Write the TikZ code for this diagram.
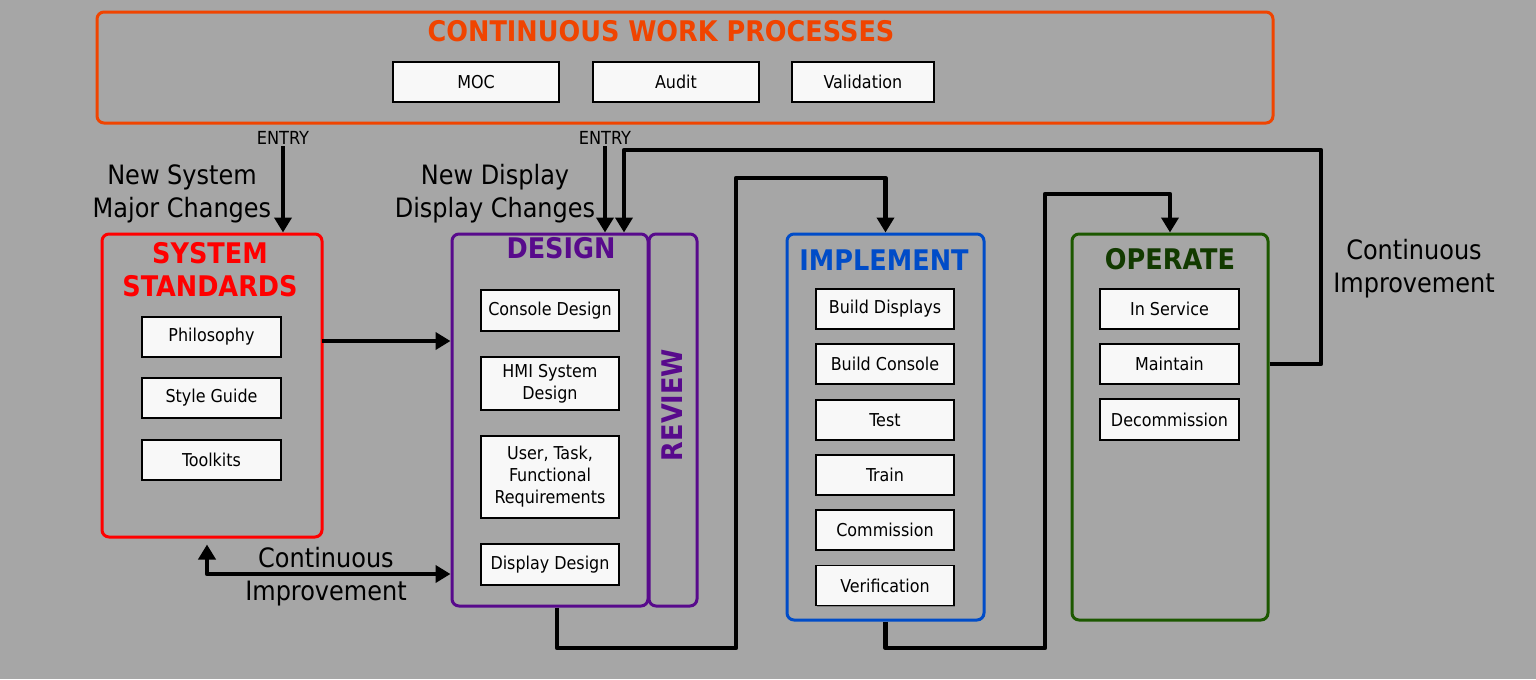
\documentclass[tikz,border=0pt]{standalone}
\usepackage{fontspec}
\setmainfont{DejaVu Sans Condensed}
\usetikzlibrary{arrows.meta,shadows}
\newlength\pxu \setlength\pxu{0.75pt}
\definecolor{bg}{RGB}{166,166,166}
\definecolor{cwp}{RGB}{240,68,0}
\definecolor{sysred}{RGB}{255,0,0}
\definecolor{despur}{RGB}{88,10,140}
\definecolor{impblue}{RGB}{0,76,200}
\definecolor{opgreen}{RGB}{28,88,0}
\definecolor{optext}{RGB}{18,58,0}
\definecolor{boxfill}{RGB}{248,248,248}
\tikzset{
  container/.style={draw, line width=2.25pt, rounded corners=5.25pt, inner sep=0pt},
  item/.style={draw=black, line width=1.2pt, fill=boxfill, inner sep=0pt, align=center,
     font=\fontsize{13.3pt}{16.5pt}\selectfont,
     drop shadow={shadow xshift=0.75pt, shadow yshift=-1.1pt, opacity=0.45, fill=black!70}},
  title/.style={font=\fontsize{21.3pt}{24.8pt}\selectfont\bfseries, align=center, inner sep=0pt},
  label/.style={font=\fontsize{20pt}{24.8pt}\selectfont, align=center, inner sep=0pt},
  entry/.style={font=\fontsize{13.5pt}{15pt}\selectfont, inner sep=1pt},
  conn/.style={draw=black, line width=3.6pt, line join=round},
  arr/.style={-{Triangle[length=11.25pt, width=12.75pt]}},
  barr/.style={{Triangle[length=11.25pt, width=12.75pt]}-{Triangle[length=11.25pt, width=12.75pt]}}
}
\begin{document}
\begin{tikzpicture}[x=\pxu, y=-\pxu]
\fill[bg] (0,0) rectangle (1536,679);
\useasboundingbox (0,0) rectangle (1536,679);

% top container
\node[container, draw=cwp, minimum width=1176\pxu, minimum height=111\pxu] (cwpbox) at (685,67.5) {};
\node[title, text=cwp] (cwptitle) at (661,31) {CONTINUOUS WORK PROCESSES};
\node[item, minimum width=166\pxu, minimum height=40\pxu] (moc) at (476,82) {MOC};
\node[item, minimum width=166\pxu, minimum height=40\pxu] (audit) at (676,82) {Audit};
\node[item, minimum width=142\pxu, minimum height=40\pxu] (valid) at (863,82) {Validation};

% system standards
\node[container, draw=sysred, minimum width=220\pxu, minimum height=303\pxu] (sys) at (212,385.5) {};
\node[title, text=sysred] (systitle) at (210,270) {SYSTEM\\STANDARDS};
\node[item, minimum width=139\pxu, minimum height=40\pxu] (phil) at (211.5,337) {Philosophy};
\node[item, minimum width=139\pxu, minimum height=40\pxu] (style) at (211.5,398) {Style Guide};
\node[item, minimum width=139\pxu, minimum height=40\pxu] (tool) at (211.5,460) {Toolkits};

% design + review
\node[container, draw=despur, minimum width=196\pxu, minimum height=372\pxu] (des) at (550,420) {};
\node[container, draw=despur, minimum width=48\pxu, minimum height=372\pxu] (rev) at (673,420) {};
\node[title, text=despur] (destitle) at (561,248) {DESIGN};
\node[title, text=despur, rotate=90] (revtitle) at (672,405) {REVIEW};
\node[item, minimum width=138\pxu, minimum height=41\pxu] (cons) at (550,310.5) {Console Design};
\node[item, minimum width=138\pxu, minimum height=53\pxu] (hmi) at (550,383.5) {HMI System\\Design};
\node[item, minimum width=138\pxu, minimum height=82\pxu] (utf) at (550,477) {User, Task,\\Functional\\Requirements};
\node[item, minimum width=138\pxu, minimum height=41\pxu] (disp) at (550,564.5) {Display Design};

% implement
\node[container, draw=impblue, minimum width=197\pxu, minimum height=386\pxu] (impl) at (885.5,427) {};
\node[title, text=impblue] (impltitle) at (884,260) {IMPLEMENT};
\node[item, minimum width=138\pxu, minimum height=40\pxu] (bdisp) at (885,309) {Build Displays};
\node[item, minimum width=138\pxu, minimum height=40\pxu] (bcons) at (885,364) {Build Console};
\node[item, minimum width=138\pxu, minimum height=40\pxu] (test) at (885,420) {Test};
\node[item, minimum width=138\pxu, minimum height=40\pxu] (train) at (885,475) {Train};
\node[item, minimum width=138\pxu, minimum height=40\pxu] (comm) at (885,530) {Commission};
\node[item, minimum width=138\pxu, minimum height=40\pxu] (verif) at (885,585.5) {Verification};

% operate
\node[container, draw=opgreen, minimum width=196\pxu, minimum height=386\pxu] (oper) at (1170,427) {};
\node[title, text=optext] (opertitle) at (1170,259) {OPERATE};
\node[item, minimum width=139\pxu, minimum height=40\pxu] (inserv) at (1169.5,309) {In Service};
\node[item, minimum width=139\pxu, minimum height=40\pxu] (maint) at (1169.5,364) {Maintain};
\node[item, minimum width=139\pxu, minimum height=41\pxu] (decom) at (1169.5,419.5) {Decommission};

% labels
\node[entry] (entry1) at (283,138) {ENTRY};
\node[entry] (entry2) at (605,138) {ENTRY};
\node[label] (newsys) at (182,194) {New System\\Major Changes};
\node[label] (newdisp) at (495,194) {New Display\\Display Changes};
\node[label] (ciBottom) at (326,577) {Continuous\\Improvement};
\node[label] (ciRight) at (1414,269) {Continuous\\Improvement};

% coordinates
\coordinate (e2x) at (624,0);
\coordinate (loopTop) at (1321,150);
\coordinate (a1) at (322,341);
\coordinate (ciL) at (207,574);
\coordinate (d0) at (557,648);
\coordinate (d1) at (736,648);
\coordinate (d2) at (736,178);
\coordinate (i1) at (1045,648);
\coordinate (i2) at (1045,194);

% connectors
\draw[conn, arr] (entry1.south) -- (entry1.south |- sys.north);
\draw[conn, arr] (entry2.south) -- (entry2.south |- des.north);
\draw[conn, arr] (maint.east -| oper.east) -| (loopTop) -| (e2x |- des.north);
\draw[conn, arr] (a1) -- (a1 -| des.west);
\draw[conn, barr, shorten <=4.5pt] (sys.south -| ciL) -- (ciL) -- (ciL -| des.west);
\draw[conn, arr] (des.south -| d0) -- (d0) -- (d1) -- (d2) -| (impl.north);
\draw[conn, arr] (impl.south) |- (i1) -- (i2) -| (oper.north);
\end{tikzpicture}
\end{document}
